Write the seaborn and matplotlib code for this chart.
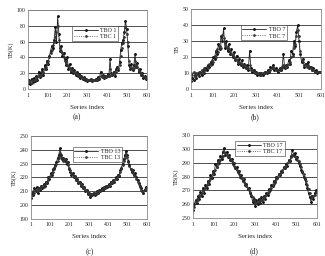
import numpy as np
import pandas as pd
import matplotlib
matplotlib.use("Agg")
import matplotlib.pyplot as plt
import seaborn as sns

# sampled every 6th index of the 600-point series (1, 7, 13, ...)
tbo_1 = [8, 12, 6, 13, 9, 14, 10, 16, 12, 22,
         15, 20, 26, 18, 30, 25, 36, 32, 42, 48,
         55, 52, 62, 78, 60, 92, 70, 48, 55, 42,
         46, 38, 30, 40, 26, 32, 22, 27, 20, 24,
         18, 22, 16, 19, 14, 17, 13, 15, 11, 13,
         10, 12, 11, 13, 10, 12, 11, 13, 12, 15,
         13, 22, 16, 18, 14, 17, 15, 19, 16, 38,
         20, 18, 22, 17, 25, 28, 24, 34, 50, 58,
         62, 72, 86, 76, 55, 30, 26, 32, 24, 30,
         44, 28, 33, 22, 26, 18, 20, 14, 16, 13]
tbc_1 = [11, 9, 10, 8, 12, 11, 13, 12, 15, 17,
         18, 17, 22, 21, 26, 28, 32, 35, 40, 45,
         50, 56, 60, 66, 72, 80, 62, 52, 48, 45,
         40, 36, 34, 31, 29, 27, 25, 23, 22, 21,
         20, 19, 18, 17, 16, 15, 14, 14, 13, 12,
         12, 11, 11, 11, 11, 11, 12, 12, 12, 13,
         14, 16, 15, 16, 15, 15, 16, 16, 17, 25,
         18, 19, 20, 20, 22, 26, 27, 30, 42, 52,
         58, 66, 78, 70, 60, 36, 28, 27, 26, 27,
         36, 30, 28, 24, 22, 20, 18, 16, 15, 14]

tbo_7 = [5, 7, 6, 9, 7, 10, 8, 11, 9, 12,
         10, 13, 12, 15, 14, 17, 16, 20, 19, 24,
         22, 28, 25, 33, 30, 38, 26, 30, 24, 28,
         22, 25, 20, 23, 18, 21, 16, 19, 15, 18,
         14, 16, 13, 15, 12, 24, 13, 11, 12, 10,
         11, 9, 10, 9, 10, 9, 10, 11, 10, 12,
         11, 14, 13, 15, 12, 13, 12, 11, 13, 12,
         14, 22, 13, 15, 14, 18, 16, 24, 22, 30,
         27, 36, 40, 30, 22, 17, 19, 14, 16, 15,
         17, 13, 14, 12, 13, 11, 12, 10, 11, 11]
tbc_7 = [10, 9, 11, 8, 10, 9, 11, 10, 12, 11,
         13, 12, 14, 13, 16, 15, 18, 17, 21, 20,
         25, 23, 27, 26, 34, 32, 29, 27, 26, 25,
         24, 22, 21, 20, 19, 18, 17, 17, 16, 16,
         15, 15, 14, 14, 13, 15, 12, 12, 11, 11,
         10, 10, 10, 10, 9, 10, 10, 10, 11, 11,
         12, 12, 13, 14, 13, 12, 12, 12, 12, 13,
         13, 15, 14, 14, 15, 16, 17, 20, 21, 26,
         28, 33, 37, 33, 24, 18, 17, 15, 15, 14,
         15, 14, 13, 12, 12, 11, 11, 11, 11, 11]

tbo_13 = [205, 209, 207, 212, 210, 213, 209, 212, 211, 214,
          212, 215, 214, 217, 216, 220, 219, 223, 222, 226,
          227, 229, 231, 234, 236, 241, 236, 233, 234, 232,
          233, 230, 231, 226, 224, 222, 223, 220, 221, 218,
          219, 216, 217, 214, 215, 212, 213, 210, 211, 208,
          209, 206, 208, 207, 209, 207, 208, 210, 209, 211,
          210, 212, 211, 213, 212, 214, 213, 215, 214, 217,
          216, 218, 217, 220, 219, 222, 221, 225, 227, 230,
          233, 236, 239, 236, 232, 229, 226, 224, 225, 222,
          223, 220, 218, 216, 214, 212, 210, 209, 211, 213]
tbc_13 = [208, 207, 210, 209, 211, 210, 212, 211, 212, 213,
          214, 213, 215, 216, 217, 218, 220, 221, 223, 224,
          226, 228, 230, 232, 234, 238, 235, 234, 232, 233,
          231, 231, 229, 227, 225, 223, 222, 221, 220, 219,
          218, 217, 216, 215, 214, 213, 212, 211, 210, 209,
          208, 208, 207, 208, 208, 208, 209, 209, 210, 210,
          211, 211, 212, 212, 213, 213, 214, 214, 215, 216,
          217, 217, 218, 219, 220, 221, 222, 224, 226, 229,
          232, 234, 237, 235, 231, 228, 226, 225, 223, 222,
          221, 219, 217, 215, 213, 211, 210, 210, 211, 212]

tbo_17 = [256, 260, 263, 261, 266, 264, 269, 266, 272, 268,
          274, 272, 277, 275, 281, 279, 284, 282, 289, 287,
          292, 290, 295, 293, 298, 301, 296, 298, 294, 296,
          292, 293, 289, 290, 286, 287, 283, 284, 280, 281,
          277, 278, 274, 275, 271, 272, 268, 266, 262, 264,
          259, 263, 260, 264, 261, 265, 262, 266, 264, 268,
          267, 271, 270, 274, 273, 277, 276, 280, 279, 282,
          281, 284, 283, 287, 286, 289, 288, 292, 291, 295,
          299, 296, 297, 293, 294, 290, 288, 285, 283, 280,
          278, 275, 272, 268, 265, 262, 266, 264, 268, 270]
tbc_17 = [259, 258, 262, 264, 263, 267, 266, 268, 270, 271,
          272, 274, 275, 277, 278, 280, 282, 284, 285, 287,
          289, 291, 292, 294, 295, 298, 297, 296, 295, 294,
          293, 291, 290, 288, 287, 285, 284, 282, 281, 279,
          278, 276, 275, 273, 272, 270, 269, 267, 265, 263,
          262, 261, 262, 262, 263, 263, 264, 265, 266, 267,
          268, 269, 271, 272, 274, 275, 277, 278, 280, 281,
          282, 283, 285, 286, 287, 288, 290, 291, 292, 294,
          296, 295, 295, 294, 292, 291, 289, 287, 284, 282,
          279, 277, 274, 271, 268, 266, 265, 266, 267, 269]

x_ticks = [1, 101, 201, 301, 401, 501, 601]

panels = [
    # tbo, tbc, channel, ylim, ystep, ylabel, tag, axes rect, legend anchor, tag pos
    (tbo_1, tbc_1, 1, (0, 100), 20, "TB(K)", "(a)", [0.086, 0.652, 0.366, 0.309], (0.37, 0.80), (0.237, 0.543)),
    (tbo_7, tbc_7, 7, (0, 50), 10, "TB", "(b)", [0.588, 0.652, 0.400, 0.312], (0.38, 0.80), (0.785, 0.543)),
    (tbo_13, tbc_13, 13, (190, 250), 10, "TB(K)", "(c)", [0.095, 0.145, 0.357, 0.324], (0.36, 0.87), (0.277, 0.016)),
    (tbo_17, tbc_17, 17, (250, 310), 10, "TB(K)", "(d)", [0.594, 0.148, 0.382, 0.324], (0.34, 0.93), (0.782, 0.020)),
]

sns.set_style("white")
plt.rcParams['font.family'] = ['Liberation Serif', 'DejaVu Serif']

fig = plt.figure(figsize=(3.25, 2.56), dpi=100)

for tbo, tbc, ch, ylim, ystep, ylab, tag, rect, anchor, tpos in panels:
    ax = fig.add_axes(rect)
    xo = np.arange(len(tbo)) * 6 + 1
    xc = np.arange(len(tbc)) * 6 + 1
    sns.lineplot(x=xo, y=tbo, ax=ax, color='#222222', lw=0.6, marker='.', ms=2.6,
                 mec='#111111', label=f"TBO {ch}")
    sns.lineplot(x=xc, y=tbc, ax=ax, color='#444444', lw=0.6, ls=':', marker='.', ms=2.3,
                 mec='#333333', label=f"TBC {ch}")
    ax.set_xlim(1, 601)
    ax.set_ylim(*ylim)
    ax.set_xticks(x_ticks)
    ax.set_xticks(np.arange(1, 602, 20), minor=True)
    ax.set_yticks(np.arange(ylim[0], ylim[1] + 1, ystep))
    ax.yaxis.grid(True, color='#333333', lw=0.6)
    ax.set_axisbelow(True)
    ax.tick_params(axis='both', labelsize=4.2, pad=1.5, length=0)
    ax.tick_params(axis='x', which='both', direction='inout', length=2, width=0.4, color='#333333')
    for s in ax.spines.values():
        s.set_color('#888888')
        s.set_linewidth(0.6)
    ax.set_ylabel(ylab, fontsize=4.5, labelpad=2)
    ax.set_xlabel("Series index", fontsize=5, labelpad=5)
    fig.text(tpos[0], tpos[1], tag, ha='center', va='center', fontsize=5.5)
    leg = ax.legend(loc='upper left', bbox_to_anchor=anchor, fontsize=4.3, frameon=True,
                    fancybox=False, edgecolor='#333333', borderpad=0.3, handlelength=4,
                    labelspacing=0.2, handletextpad=0.4, borderaxespad=0)
    leg.get_frame().set_linewidth(0.5)

fig.savefig("out.png", dpi=100)
